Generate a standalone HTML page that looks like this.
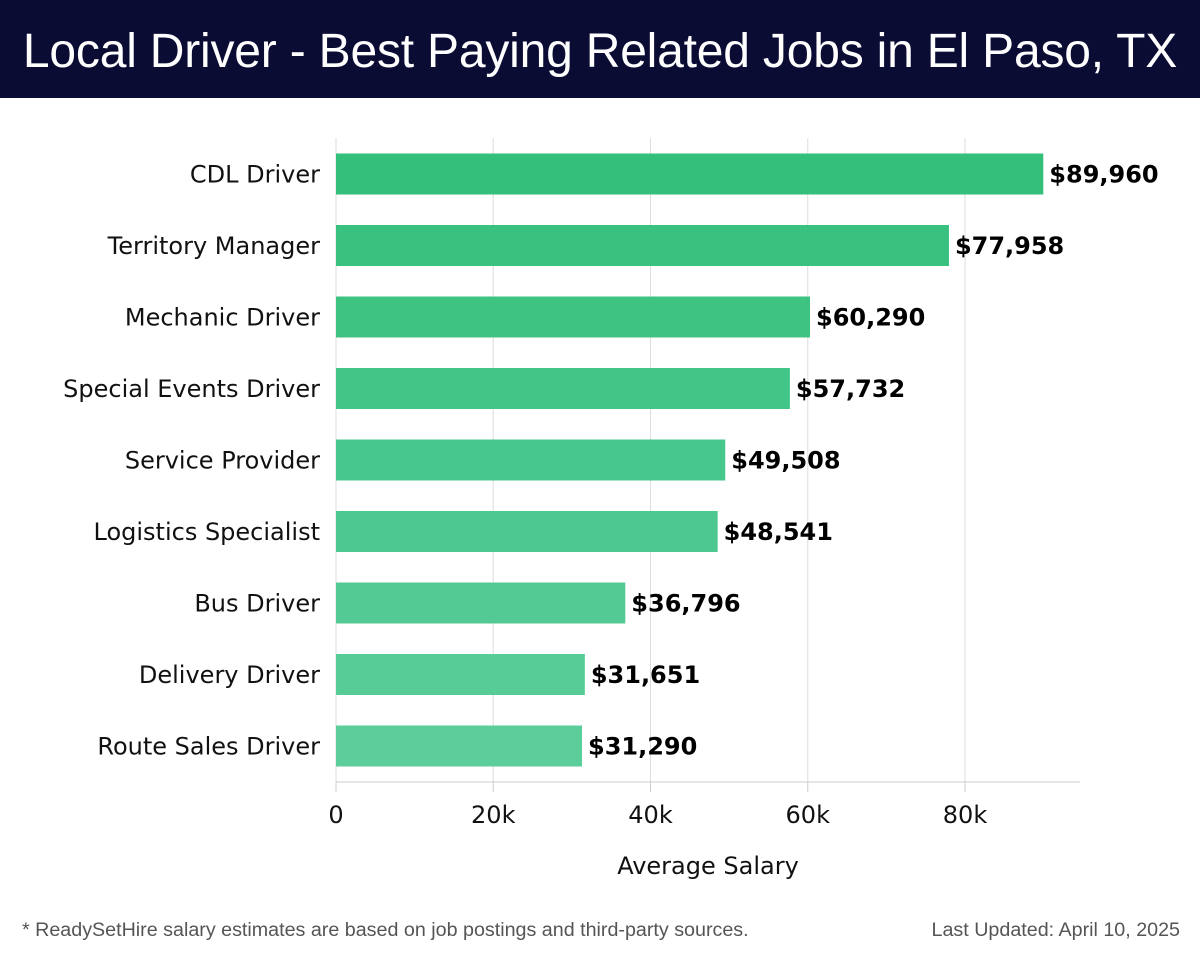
<!DOCTYPE html>
<html><head><meta charset="utf-8"><style>
body{margin:0;width:1200px;height:958px;background:#fff;overflow:hidden;font-family:"DejaVu Sans","Liberation Sans",sans-serif}
#hdr{position:absolute;left:0;top:0;width:1200px;height:98px;background:#0b0c33}
#hdr div{position:absolute;left:0;width:1200px;top:24px;text-align:center;color:#fff;font:300 48px "Liberation Sans",sans-serif;letter-spacing:-0.2px}
.ft{position:absolute;top:919px;font:19.7px "Liberation Sans",sans-serif;color:#555}
</style></head><body>
<div id="hdr"><div>Local Driver - Best Paying Related Jobs in El Paso, TX</div></div>
<svg id="c" width="1200" height="958" style="position:absolute;left:0;top:0"></svg>
<div class="ft" style="left:22px">* ReadySetHire salary estimates are based on job postings and third-party sources.</div>
<div class="ft" style="right:20px">Last Updated: April 10, 2025</div>
<script>
const categories=["CDL Driver","Territory Manager","Mechanic Driver","Special Events Driver","Service Provider","Logistics Specialist","Bus Driver","Delivery Driver","Route Sales Driver"];
const values=[89960,77958,60290,57732,49508,48541,36796,31651,31290];
const tickValues=[0,20000,40000,60000,80000];
const tickLabels=["0","20k","40k","60k","80k"];
const svg=document.getElementById('c');const NS='http://www.w3.org/2000/svg';
const x0=336,pxPer=7.8625/1000,top0=138,bottom=782,right=1080,step=71.5,firstC=174,bh=41;
const X=v=>x0+v*pxPer;const Y=i=>firstC+i*step;
function mk(t,a){const e=document.createElementNS(NS,t);for(const k in a)e.setAttribute(k,a[k]);svg.appendChild(e);return e;}
tickValues.forEach((v,i)=>{
 const g=mk('line',{x1:X(v),x2:X(v),y1:top0,y2:bottom+(i==0?10:0),stroke:'#ddd','stroke-width':1});
 
 
 const tk=mk('line',{x1:X(v),x2:X(v),y1:bottom,y2:bottom+10,stroke:'#ccc'});
 
 
 const t=mk('text',{x:X(v),y:823,'text-anchor':'middle','font-size':24,fill:'#111'});t.textContent=tickLabels[i];
 
 
});
const ax=mk('line',{x1:x0,x2:right,y1:bottom,y2:bottom,stroke:'#ccc'});


const c1=[45,189,119],c2=[87,204,152];
categories.forEach((c,i)=>{
 const f=i/(categories.length-1);const col=c1.map((a,j)=>Math.round(a+(c2[j]-a)*f));
 const r=mk('rect',{x:x0,y:Y(i)-bh/2,width:X(values[i])-x0,height:bh,fill:`rgba(${col},0.97)`});
 
 
 const l=mk('text',{x:320,y:Y(i)+8.5,'text-anchor':'end','font-size':24,fill:'#111'});l.textContent=c;
 
 
 const v=mk('text',{x:X(values[i])+6,y:Y(i)+8.5,'font-size':24,'font-weight':'bold',fill:'#000'});v.textContent='$'+values[i].toLocaleString('en-US');
 
 
});
const at=mk('text',{x:708,y:874,'text-anchor':'middle','font-size':24,fill:'#111'});at.textContent='Average Salary';


</script>
</body></html>
